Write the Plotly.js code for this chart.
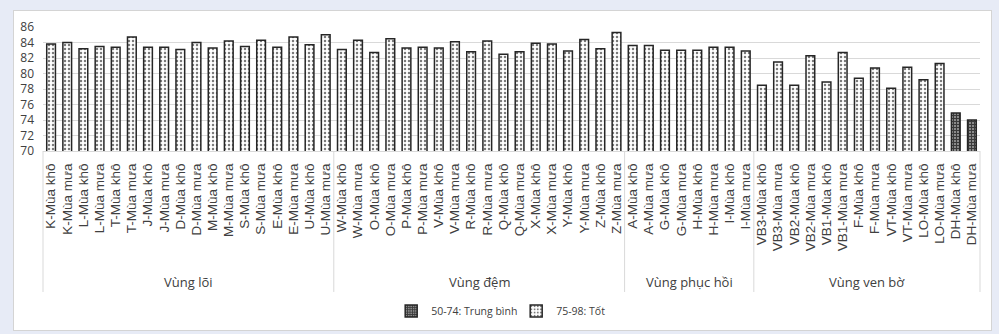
<!DOCTYPE html>
<html>
<head>
<meta charset="utf-8">
<script src="https://cdn.plot.ly/plotly-3.0.1.min.js"></script>
<style>
  html, body { margin: 0; padding: 0; background: #e7ebf6; }
  #frame { position: absolute; left: 13px; top: 10px; width: 979px; height: 321px;
           background: #ffffff; border: 1px solid #d4d4d4; box-sizing: border-box; }
  #chart { position: absolute; left: 0; top: 0; width: 999px; height: 334px; }
</style>
</head>
<body>
<div id="frame"></div>
<div id="chart"></div>
<script>
// Zones and the sampling sites inside each one
const zones = ['Vùng lõi', 'Vùng đệm', 'Vùng phục hồi', 'Vùng ven bờ'];
const zoneSites = [
  ['K', 'L', 'T', 'J', 'D', 'M', 'S', 'E', 'U'],
  ['W', 'O', 'P', 'V', 'R', 'Q', 'X', 'Y', 'Z'],
  ['A', 'G', 'H', 'I'],
  ['VB3', 'VB2', 'VB1', 'F', 'VT', 'LO', 'DH']
];
const seasons = ['Mùa khô', 'Mùa mưa'];

// Index score per site and season, in category order
const scoresCore   = [83.8, 84.0, 83.2, 83.5, 83.4, 84.7, 83.4, 83.4, 83.1, 84.0, 83.3, 84.2, 83.5, 84.3, 83.4, 84.7, 83.7, 85.0];
const scoresBuffer = [83.1, 84.3, 82.7, 84.5, 83.3, 83.4, 83.3, 84.1, 82.8, 84.2, 82.5, 82.8, 83.9, 83.8, 82.9, 84.4, 83.2, 85.3];
const scoresRecov  = [83.6, 83.6, 83.0, 83.0, 83.0, 83.4, 83.4, 82.9];
const scoresCoast  = [78.5, 81.5, 78.5, 82.3, 78.9, 82.7, 79.4, 80.7, 78.1, 80.8, 79.2, 81.3, 74.9, 74.0];

// Rating classes shown in the legend
const classNames = ['50-74: Trung bình', '75-98: Tốt'];
const goodFrom = 75;

const categories = [];
zoneSites.forEach(sites => sites.forEach(s => seasons.forEach(m => categories.push(s + '-' + m))));
const scores = [].concat(scoresCore, scoresBuffer, scoresRecov, scoresCoast);

const avgY  = scores.map(v => v < goodFrom ? v : null);
const goodY = scores.map(v => v >= goodFrom ? v : null);

const outline = { color: '#262626', width: 1.5 };

const traces = [
  {
    type: 'bar', name: classNames[0], x: categories, y: avgY,
    marker: { color: '#5a5a5a', line: outline,
              pattern: { shape: '+', fgcolor: '#3a3a3a', bgcolor: '#8a8a8a', size: 3, solidity: 0.55 } },
    hoverinfo: 'x+y'
  },
  {
    type: 'bar', name: classNames[1], x: categories, y: goodY,
    marker: { color: '#ffffff', line: outline,
              pattern: { shape: '.', fgcolor: '#7a7a7a', bgcolor: '#ffffff', size: 4, solidity: 0.3 } },
    hoverinfo: 'x+y'
  }
];

// Zone dividers and zone titles under the category labels
const n = categories.length;
const shapes = [];
const annotations = [];
let start = 0;
const axisDrop = -1.137;
shapes.push({ type: 'line', xref: 'paper', yref: 'paper', x0: 0, x1: 0, y0: 0, y1: axisDrop,
              line: { color: '#d9d9d9', width: 1 } });
zones.forEach((z, i) => {
  const count = zoneSites[i].length * seasons.length;
  const end = start + count;
  shapes.push({ type: 'line', xref: 'paper', yref: 'paper', x0: end / n, x1: end / n, y0: 0, y1: axisDrop,
                line: { color: '#d9d9d9', width: 1 } });
  annotations.push({ xref: 'paper', yref: 'paper', x: (start + count / 2) / n, y: -1.056,
                     text: z, showarrow: false, xanchor: 'center', yanchor: 'middle',
                     font: { family: 'Open Sans', size: 13, color: '#404040' } });
  start = end;
});

const layout = {
  width: 999, height: 334,
  margin: { l: 43, r: 19, t: 27, b: 183 },
  paper_bgcolor: 'rgba(0,0,0,0)',
  plot_bgcolor: 'rgba(0,0,0,0)',
  barmode: 'overlay',
  bargap: 0.46,
  showlegend: true,
  legend: { orientation: 'h', xref: 'paper', x: 0.505, xanchor: 'center',
            yref: 'container', y: 0.069, yanchor: 'middle',
            font: { family: 'Open Sans', size: 10.5, color: '#404040' },
            itemwidth: 30, entrywidth: 80, traceorder: 'normal' },
  xaxis: {
    type: 'category', tickmode: 'array', tickvals: categories, ticktext: categories,
    tickangle: -90, showgrid: false, showline: true,
    linecolor: '#d9d9d9', linewidth: 1,
    ticks: 'outside', ticklen: 6, tickcolor: 'rgba(0,0,0,0)',
    tickfont: { family: 'Liberation Sans', size: 13.5, color: '#404040' },
    fixedrange: true, automargin: false
  },
  yaxis: {
    range: [70, 86], dtick: 2, tick0: 70, showgrid: true, gridcolor: '#d9d9d9', gridwidth: 1,
    zeroline: false, showline: false, ticks: '', ticklabelstandoff: 8,
    tickfont: { family: 'Open Sans', size: 12, color: '#404040' },
    fixedrange: true, automargin: false
  },
  shapes: shapes,
  annotations: annotations
};

Plotly.newPlot('chart', traces, layout, { displayModeBar: false, staticPlot: true });
</script>
</body>
</html>
